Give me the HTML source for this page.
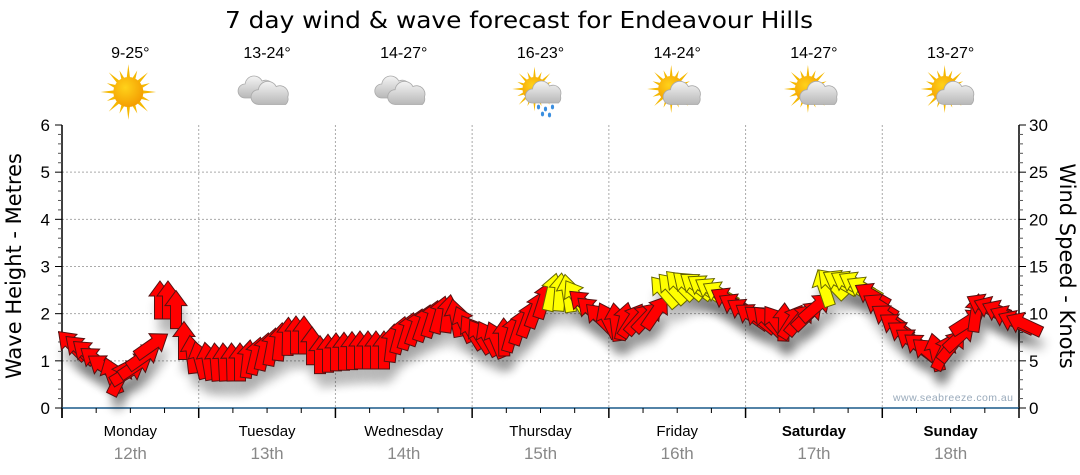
<!DOCTYPE html>
<html><head><meta charset="utf-8"><style>
html,body{margin:0;padding:0;background:#fff;}
svg{display:block;font-family:"Liberation Sans","DejaVu Sans",sans-serif;}
</style></head><body>
<svg id="s" width="1080" height="475" viewBox="0 0 1080 475" xmlns="http://www.w3.org/2000/svg">
<defs>
<radialGradient id="sun" cx="0.4" cy="0.35" r="0.7"><stop offset="0" stop-color="#ffd21a"/><stop offset="1" stop-color="#f39a00"/></radialGradient>
<linearGradient id="cl" x1="0" y1="0" x2="0" y2="1"><stop offset="0" stop-color="#f4f4f4"/><stop offset="1" stop-color="#b8b8b8"/></linearGradient>
<filter id="sh" x="-50%" y="-50%" width="200%" height="200%"><feGaussianBlur stdDeviation="5"/></filter>
</defs>
<text x="519" y="28" font-size="23" text-anchor="middle" fill="#000" textLength="588" lengthAdjust="spacingAndGlyphs" font-family="DejaVu Sans, sans-serif">7 day wind &amp; wave forecast for Endeavour Hills</text>
<g id="g"></g>
<g id="arr"></g>
</svg>
<script>
const NS="http://www.w3.org/2000/svg";
const s=document.getElementById('g');
function el(t,a,p){const e=document.createElementNS(NS,t);for(const k in a)e.setAttribute(k,a[k]);(p||s).appendChild(e);return e;}
function tx(x,y,str,a){const e=el('text',Object.assign({x:x,y:y},a));e.textContent=str;return e;}
const L=62,R=1019,T=125,B=408,dw=(R-L)/7,mh=(B-T)/6;
for(let i=1;i<6;i++){const y=T+i*mh;el('line',{x1:L,x2:R,y1:y,y2:y,stroke:'#aaa','stroke-dasharray':'2,2','stroke-width':1});}
for(let i=1;i<7;i++){const x=L+i*dw;el('line',{x1:x,x2:x,y1:T,y2:B,stroke:'#aaa','stroke-dasharray':'2,2','stroke-width':1});}
el('line',{x1:L,x2:L,y1:T,y2:B+10,stroke:'#000','stroke-width':1.5});
el('line',{x1:R,x2:R,y1:T,y2:B,stroke:'#000','stroke-width':1.5});
el('line',{x1:L,x2:R,y1:B,y2:B,stroke:'#1a5a8a','stroke-width':1.5});
for(let i=0;i<=6;i++){const y=T+i*mh;
 el('line',{x1:L-7,x2:L,y1:y,y2:y,stroke:'#000'});
 el('line',{x1:R,x2:R+7,y1:y,y2:y,stroke:'#000'});
 tx(L-12,y+6,String(6-i),{'font-size':17,'text-anchor':'end'});
 tx(R+10,y+6,String(30-i*5),{'font-size':17});
}
for(let i=0;i<30;i++){const y=T+i*mh/5;if(i%5==0)continue;
 el('line',{x1:L-4,x2:L,y1:y,y2:y,stroke:'#555'});el('line',{x1:R,x2:R+4,y1:y,y2:y,stroke:'#555'});}
for(let i=0;i<=28;i++){const x=L+i*dw/4;el('line',{x1:x,x2:x,y1:B,y2:B+(i%4==0?10:5),stroke:'#000','stroke-width':i%4==0?1.5:1});}
const days=['Monday','Tuesday','Wednesday','Thursday','Friday','Saturday','Sunday'];
const temps=['9-25°','13-24°','14-27°','16-23°','14-24°','14-27°','13-27°'];
const icons=['sun','cloud','cloud','rain','pc','pc','pc'];
for(let i=0;i<7;i++){const c=L+(i+0.5)*dw;
 tx(c,436,days[i],{'font-size':15,'text-anchor':'middle','font-weight':i>=5?'bold':'normal'});
 tx(c,459,(12+i)+'th',{'font-size':17,'text-anchor':'middle',fill:'#888'});
 tx(c,58,temps[i],{'font-size':16,'text-anchor':'middle'});
 icon(icons[i],c,93);
}
function sunI(x,y,r){const g=el('g',{});
 for(let k=0;k<16;k++){const a=k*Math.PI/8,l=k%2?r*1.55:r*1.85;
  const p=[[x+Math.cos(a)*l,y+Math.sin(a)*l],[x+Math.cos(a+0.13)*r*0.9,y+Math.sin(a+0.13)*r*0.9],[x+Math.cos(a-0.13)*r*0.9,y+Math.sin(a-0.13)*r*0.9]];
  el('polygon',{points:p.map(q=>q.join(',')).join(' '),fill:'#f5b800'},g);}
 el('circle',{cx:x,cy:y,r:r,fill:'url(#sun)'},g);}
function cloud(x,y,sc){const g=el('g',{transform:`translate(${x},${y}) scale(${sc})`});
 el('path',{d:'M-14,8 a7,7 0 0 1 0,-14 a9,9 0 0 1 17,-3 a8,8 0 0 1 11,10 a7,7 0 0 1 -2,7 z',fill:'url(#cl)',stroke:'#aaa','stroke-width':0.8},g);}
function icon(t,x,y){
 if(t=='sun'){sunI(x-2,y-1,15);}
 else if(t=='cloud'){cloud(x-8,y-3,1);cloud(x+6,y+3,1.05);}
 else if(t=='rain'){sunI(x-6,y-4,12);cloud(x+6,y+2,1);
  for(const d of [[0,18],[7,20],[14,18],[4,25],[11,26]])el('ellipse',{cx:x+d[0]-2,cy:y+d[1]-4,rx:1.6,ry:2.4,fill:'#3a8ee0'});}
 else {sunI(x-6,y-4,13);cloud(x+8,y+3,1.05);}
}
tx(0,0,'www.seabreeze.com.au',{'font-size':10.5,fill:'#9ab',transform:'translate(893,401)',textLength:120});
const yl=el('text',{'font-size':21,'text-anchor':'middle',transform:'translate(21,266) rotate(-90)','font-family':'DejaVu Sans, sans-serif'});yl.textContent='Wave Height - Metres';
const yr=el('text',{'font-size':21,'text-anchor':'middle',transform:'translate(1060,266) rotate(90)','font-family':'DejaVu Sans, sans-serif'});yr.textContent='Wind Speed - Knots';
const K=[[72,345,-45,0],[90,355,-50,0],[105,368,-55,0],[116,380,0,0],[125,375,60,0],[140,362,55,0],[152,345,55,0],[160,300,0,0],[168,300,0,0],[178,312,0,0],
[186,350,0,0],[200,360,-15,0],[215,362,-5,0],[240,362,0,0],[258,355,15,0],[275,345,10,0],[290,335,0,0],[305,335,0,0],[318,355,0,0],
[335,352,0,0],[360,350,0,0],[385,350,0,0],[400,335,15,0],[420,325,20,0],[445,312,15,0],[460,320,-20,0],[475,335,-35,0],[495,340,-25,0],
[510,335,15,0],[525,322,20,0],[540,305,20,0],[550,292,15,1],[565,292,0,1],[575,296,-30,1],[585,305,-50,0],[600,318,-45,0],[615,322,-10,0],
[635,320,40,0],[655,315,45,0],[663,292,-40,1],[680,285,-45,1],[700,286,-55,1],[718,292,-60,1],[735,305,-60,0],[755,318,-55,0],[775,322,-40,0],
[790,322,30,0],[805,318,45,0],[818,305,50,0],[825,285,-30,1],[840,282,-60,1],[858,284,-60,1],[872,295,-60,0],[890,320,-55,0],[910,340,-55,0],
[928,352,-50,0],[945,352,30,0],[958,340,45,0],[970,318,60,0],[985,305,-70,0],[1000,312,-65,0],[1015,322,-65,0],[1028,325,-65,0]];
function interp(x){for(let i=0;i<K.length-1;i++){const a=K[i],b=K[i+1];if(x>=a[0]&&x<=b[0]){const t=(x-a[0])/(b[0]-a[0]);return [a[1]+(b[1]-a[1])*t,a[2]+(b[2]-a[2])*t,t<0.5?a[3]:b[3]];}}return null;}
const ag=document.getElementById('arr');
const shp='M0,-19 L11,-4 L5.5,-4 L5.5,19 L-5.5,19 L-5.5,-4 L-11,-4 Z';
const pts=[];for(let x=72;x<=1028;x+=8){const r=interp(x);if(r)pts.push([x,r[0],r[1],r[2]]);}
for(const p of pts)el('path',{d:shp,fill:'#000',opacity:0.22,filter:'url(#sh)',transform:`translate(${p[0]+3},${p[1]+14}) rotate(${p[2]})`},ag);
for(const p of pts)el('path',{d:shp,fill:p[3]?'#ffff00':'#ff0000',stroke:p[3]?'#666600':'#551111','stroke-width':1,transform:`translate(${p[0]},${p[1]}) rotate(${p[2]})`},ag);
</script>
</body></html>
